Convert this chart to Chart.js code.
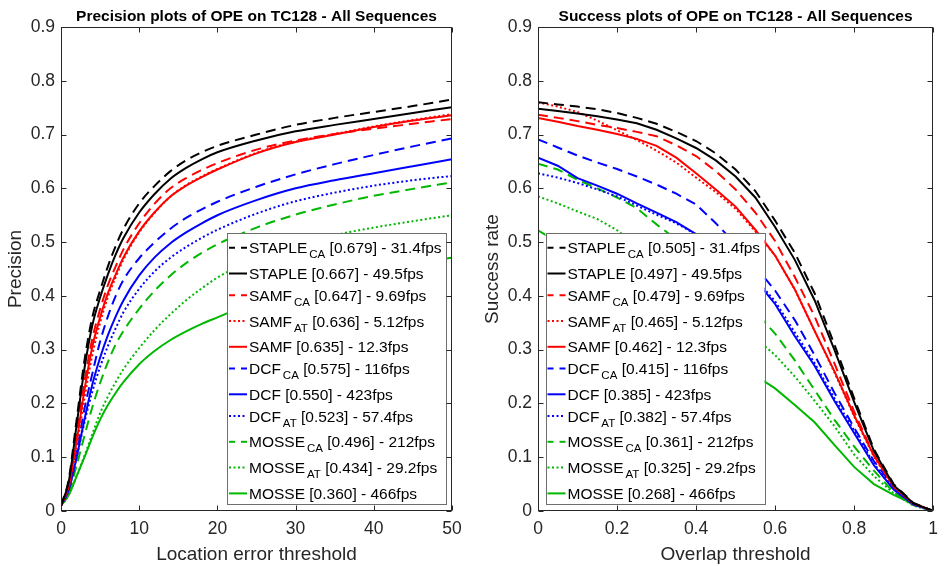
<!DOCTYPE html>
<html>
<head>
<meta charset="utf-8">
<script src="https://cdn.jsdelivr.net/npm/chart.js@4.4.1/dist/chart.umd.min.js"></script>
<style>
  html, body { margin: 0; padding: 0; background: #fff; }
  .plot { position: absolute; top: 0; width: 473px; height: 566px; }
  #leftPlot { left: 0; }
  #rightPlot { left: 473px; }
</style>
</head>
<body>
<div class="plot" id="leftPlot"><canvas id="precisionChart"></canvas></div>
<div class="plot" id="rightPlot"><canvas id="successChart"></canvas></div>
<script>
// trackers, in legend order
const trackers = ['STAPLE', 'STAPLE', 'SAMF', 'SAMF', 'SAMF', 'DCF', 'DCF', 'DCF', 'MOSSE', 'MOSSE', 'MOSSE'];
const variants = ['CA', '', 'CA', 'AT', '', 'CA', '', 'AT', 'CA', 'AT', ''];
const fps = ['31.4', '49.5', '9.69', '5.12', '12.3', '116', '423', '57.4', '212', '29.2', '466'];
const precisionScores = [0.679, 0.667, 0.647, 0.636, 0.635, 0.575, 0.550, 0.523, 0.496, 0.434, 0.360];
const successScores = [0.505, 0.497, 0.479, 0.465, 0.462, 0.415, 0.385, 0.382, 0.361, 0.325, 0.268];

// location error thresholds (px)
const errorThresholds = [0, 1, 2, 3, 4, 5, 6, 7, 8, 10, 12, 14, 16, 18, 20, 25, 30, 35, 40, 45, 50];
const precisionStapleCA = [0.01, 0.06, 0.17, 0.28, 0.36, 0.41, 0.455, 0.493, 0.525, 0.572, 0.605, 0.632, 0.652, 0.667, 0.679, 0.700, 0.718, 0.731, 0.742, 0.753, 0.765];
const precisionStaple   = [0.01, 0.055, 0.16, 0.265, 0.345, 0.397, 0.44, 0.477, 0.508, 0.555, 0.590, 0.618, 0.638, 0.654, 0.667, 0.689, 0.706, 0.718, 0.729, 0.740, 0.751];
const precisionSamfCA   = [0.01, 0.05, 0.14, 0.24, 0.32, 0.375, 0.42, 0.455, 0.487, 0.535, 0.572, 0.600, 0.619, 0.634, 0.647, 0.672, 0.689, 0.701, 0.711, 0.720, 0.729];
const precisionSamfAT   = [0.01, 0.045, 0.12, 0.21, 0.29, 0.35, 0.398, 0.435, 0.468, 0.518, 0.555, 0.585, 0.606, 0.622, 0.636, 0.666, 0.687, 0.701, 0.715, 0.727, 0.738];
const precisionSamf     = [0.01, 0.048, 0.13, 0.225, 0.305, 0.36, 0.405, 0.44, 0.472, 0.52, 0.556, 0.585, 0.605, 0.621, 0.635, 0.665, 0.686, 0.700, 0.714, 0.726, 0.736];
const precisionDcfCA    = [0.01, 0.045, 0.11, 0.19, 0.255, 0.315, 0.362, 0.4, 0.43, 0.47, 0.50, 0.525, 0.545, 0.561, 0.575, 0.603, 0.626, 0.645, 0.662, 0.678, 0.693];
const precisionDcf      = [0.01, 0.04, 0.1, 0.17, 0.235, 0.285, 0.327, 0.362, 0.392, 0.438, 0.472, 0.498, 0.518, 0.535, 0.550, 0.578, 0.600, 0.615, 0.628, 0.641, 0.654];
const precisionDcfAT    = [0.01, 0.04, 0.1, 0.165, 0.222, 0.268, 0.307, 0.34, 0.37, 0.413, 0.446, 0.471, 0.491, 0.508, 0.523, 0.553, 0.576, 0.592, 0.605, 0.615, 0.623];
const precisionMosseCA  = [0.01, 0.035, 0.085, 0.14, 0.193, 0.238, 0.277, 0.31, 0.335, 0.376, 0.41, 0.438, 0.461, 0.48, 0.496, 0.527, 0.551, 0.57, 0.586, 0.599, 0.611];
const precisionMosseAT  = [0.01, 0.03, 0.065, 0.103, 0.143, 0.182, 0.213, 0.24, 0.264, 0.303, 0.337, 0.366, 0.392, 0.414, 0.434, 0.47, 0.495, 0.513, 0.527, 0.539, 0.550];
const precisionMosse    = [0.01, 0.03, 0.065, 0.1, 0.137, 0.17, 0.197, 0.22, 0.24, 0.273, 0.298, 0.318, 0.334, 0.348, 0.360, 0.39, 0.413, 0.432, 0.447, 0.46, 0.471];

// overlap thresholds
const overlapThresholds = [0, 0.05, 0.1, 0.15, 0.2, 0.25, 0.3, 0.35, 0.4, 0.45, 0.5, 0.55, 0.6, 0.65, 0.7, 0.75, 0.8, 0.85, 0.9, 0.95, 1];
const successStapleCA = [0.760, 0.756, 0.752, 0.747, 0.740, 0.731, 0.720, 0.705, 0.688, 0.665, 0.635, 0.595, 0.540, 0.480, 0.405, 0.310, 0.210, 0.115, 0.050, 0.015, 0.0];
const successStaple   = [0.748, 0.744, 0.739, 0.734, 0.728, 0.721, 0.709, 0.693, 0.675, 0.652, 0.622, 0.583, 0.528, 0.467, 0.392, 0.300, 0.203, 0.112, 0.048, 0.014, 0.0];
const successSamfCA   = [0.737, 0.731, 0.725, 0.718, 0.712, 0.705, 0.697, 0.680, 0.660, 0.632, 0.598, 0.555, 0.502, 0.435, 0.362, 0.275, 0.185, 0.104, 0.047, 0.014, 0.0];
const successSamfAT   = [0.760, 0.752, 0.742, 0.726, 0.708, 0.690, 0.670, 0.648, 0.620, 0.593, 0.562, 0.520, 0.475, 0.412, 0.335, 0.258, 0.176, 0.101, 0.045, 0.013, 0.0];
const successSamf     = [0.731, 0.724, 0.716, 0.709, 0.701, 0.692, 0.679, 0.657, 0.628, 0.598, 0.566, 0.523, 0.475, 0.412, 0.335, 0.260, 0.178, 0.103, 0.046, 0.014, 0.0];
const successDcfCA    = [0.691, 0.676, 0.661, 0.648, 0.636, 0.622, 0.607, 0.590, 0.570, 0.535, 0.497, 0.455, 0.410, 0.355, 0.290, 0.220, 0.155, 0.093, 0.045, 0.013, 0.0];
const successDcf      = [0.657, 0.642, 0.619, 0.605, 0.590, 0.572, 0.555, 0.537, 0.515, 0.490, 0.465, 0.430, 0.385, 0.325, 0.270, 0.205, 0.145, 0.085, 0.040, 0.012, 0.0];
const successDcfAT    = [0.628, 0.620, 0.610, 0.598, 0.585, 0.568, 0.551, 0.535, 0.514, 0.490, 0.465, 0.432, 0.390, 0.332, 0.275, 0.210, 0.150, 0.088, 0.042, 0.013, 0.0];
const successMosseCA  = [0.646, 0.635, 0.616, 0.600, 0.583, 0.563, 0.533, 0.505, 0.475, 0.445, 0.410, 0.370, 0.330, 0.280, 0.225, 0.170, 0.120, 0.075, 0.035, 0.011, 0.0];
const successMosseAT  = [0.585, 0.572, 0.557, 0.543, 0.522, 0.495, 0.467, 0.440, 0.410, 0.380, 0.350, 0.322, 0.290, 0.250, 0.205, 0.158, 0.105, 0.065, 0.033, 0.010, 0.0];
const successMosse    = [0.522, 0.500, 0.478, 0.456, 0.433, 0.410, 0.387, 0.363, 0.338, 0.311, 0.283, 0.252, 0.228, 0.197, 0.165, 0.123, 0.082, 0.050, 0.030, 0.013, 0.0];

const precisionCurves = [precisionStapleCA, precisionStaple, precisionSamfCA, precisionSamfAT, precisionSamf,
  precisionDcfCA, precisionDcf, precisionDcfAT, precisionMosseCA, precisionMosseAT, precisionMosse];
const successCurves = [successStapleCA, successStaple, successSamfCA, successSamfAT, successSamf,
  successDcfCA, successDcf, successDcfAT, successMosseCA, successMosseAT, successMosse];

const FONT = "'Liberation Sans', Arial, Helvetica, sans-serif";
const AXIS_COLOR = '#262626';
const GREEN = '#00b800';
const DASH = [10, 6];
const DOT = [2, 2.5];
// colour / line style per tracker
const lineStyles = [
  { color: '#000000', dash: DASH }, { color: '#000000', dash: [] },
  { color: '#ff0000', dash: DASH }, { color: '#ff0000', dash: DOT }, { color: '#ff0000', dash: [] },
  { color: '#0000ff', dash: DASH }, { color: '#0000ff', dash: [] }, { color: '#0000ff', dash: DOT },
  { color: GREEN, dash: DASH }, { color: GREEN, dash: DOT }, { color: GREEN, dash: [] }
];

function buildDatasets(xs, curves, smooth) {
  return curves.map((ys, i) => ({
    label: trackers[i] + variants[i],
    data: xs.map((x, k) => ({ x: x, y: ys[k] })),
    borderColor: lineStyles[i].color,
    borderDash: lineStyles[i].dash,
    borderWidth: 2,
    pointRadius: 0,
    fill: false,
    cubicInterpolationMode: smooth ? 'monotone' : 'default',
    tension: 0
  }));
}

// title, legend box and MATLAB style frame with inward ticks
const matlabAxes = {
  id: 'matlabAxes',
  afterDatasetsDraw(chart, args, opts) {
    const { ctx, chartArea: a, scales } = chart;
    ctx.save();

    // legend
    const boxW = 219, boxH = 271;
    const bx = opts.legendSide === 'right' ? a.right - 6 - boxW : a.left + 7.5;
    const by = a.bottom - 7 - boxH;
    ctx.fillStyle = '#ffffff';
    ctx.fillRect(bx, by, boxW, boxH);
    ctx.strokeStyle = '#6e6e6e';
    ctx.lineWidth = 1;
    ctx.setLineDash([]);
    ctx.strokeRect(Math.round(bx) + 0.5, Math.round(by) + 0.5, boxW, boxH);

    let rowTop = by + 4;
    trackers.forEach((name, i) => {
      const cy = rowTop + 10.7;
      const st = lineStyles[i];
      ctx.strokeStyle = st.color;
      ctx.lineWidth = 2;
      ctx.setLineDash(st.dash === DASH ? [6, 6] : st.dash);
      ctx.beginPath();
      ctx.moveTo(bx + 2, cy);
      ctx.lineTo(bx + 20, cy);
      ctx.stroke();
      ctx.setLineDash([]);

      ctx.fillStyle = '#000000';
      ctx.textBaseline = 'alphabetic';
      ctx.textAlign = 'left';
      const base = cy + 5.6;
      let tx = bx + 22;
      ctx.font = '15.5px ' + FONT;
      ctx.fillText(name, tx, base);
      tx += ctx.measureText(name).width;
      if (variants[i]) {
        tx += 2;
        ctx.font = '11.5px ' + FONT;
        ctx.fillText(variants[i], tx, base + 5);
        tx += ctx.measureText(variants[i]).width;
      }
      ctx.font = '15.5px ' + FONT;
      ctx.fillText(' [' + opts.scores[i].toFixed(3) + '] - ' + fps[i] + 'fps', tx, base);
      rowTop += variants[i] ? 25.8 : 21.7;
    });

    // frame and ticks on all four sides
    ctx.strokeStyle = AXIS_COLOR;
    ctx.lineWidth = 1;
    const L = Math.round(a.left) + 0.5, R = Math.round(a.right) - 0.5;
    const T = Math.round(a.top) + 0.5, B = Math.round(a.bottom) - 0.5;
    ctx.strokeRect(L, T, R - L, B - T);
    ctx.beginPath();
    scales.x.ticks.forEach(t => {
      const px = Math.round(scales.x.getPixelForValue(t.value)) + 0.5;
      ctx.moveTo(px, B); ctx.lineTo(px, B - 5);
      ctx.moveTo(px, T); ctx.lineTo(px, T + 5);
    });
    scales.y.ticks.forEach(t => {
      const py = Math.round(scales.y.getPixelForValue(t.value)) + 0.5;
      ctx.moveTo(L, py); ctx.lineTo(L + 5, py);
      ctx.moveTo(R, py); ctx.lineTo(R - 5, py);
    });
    ctx.stroke();

    // bold title over the plot area
    ctx.fillStyle = '#000000';
    ctx.font = 'bold 15.5px ' + FONT;
    ctx.textAlign = 'center';
    ctx.textBaseline = 'alphabetic';
    ctx.fillText(opts.title, (a.left + a.right) / 2, 20.5);
    ctx.restore();
  }
};

function makeChart(canvasId, cfg) {
  return new Chart(document.getElementById(canvasId).getContext('2d'), {
    type: 'line',
    data: { datasets: buildDatasets(cfg.xs, cfg.curves, cfg.smooth) },
    options: {
      responsive: true,
      maintainAspectRatio: false,
      devicePixelRatio: 1,
      animation: false,
      layout: { padding: { top: 27, right: cfg.padRight, left: 0, bottom: 0 } },
      scales: {
        x: {
          type: 'linear',
          min: 0,
          max: cfg.xMax,
          grid: { display: false, drawTicks: false },
          border: { display: false },
          afterFit: s => { s.height = 55; },
          ticks: {
            stepSize: cfg.xStep,
            padding: 8,
            maxRotation: 0,
            color: AXIS_COLOR,
            font: { family: FONT, size: 17.5 },
            callback: v => String(Number(v.toFixed(1)))
          },
          title: {
            display: true,
            text: cfg.xTitle,
            color: AXIS_COLOR,
            font: { family: FONT, size: 19 },
            padding: { top: 0, bottom: 0 }
          }
        },
        y: {
          min: 0,
          max: 0.9,
          grid: { display: false, drawTicks: false },
          border: { display: false },
          afterFit: s => { s.width = cfg.yWidth; },
          ticks: {
            stepSize: 0.1,
            padding: 6,
            color: AXIS_COLOR,
            font: { family: FONT, size: 17.5 },
            callback: v => String(Number(v.toFixed(1)))
          },
          title: {
            display: true,
            text: cfg.yTitle,
            color: AXIS_COLOR,
            font: { family: FONT, size: 19 },
            padding: { top: cfg.yTitlePad, bottom: 0 }
          }
        }
      },
      plugins: {
        legend: { display: false },
        tooltip: { enabled: false },
        matlabAxes: { title: cfg.title, scores: cfg.scores, legendSide: cfg.legendSide }
      }
    },
    plugins: [matlabAxes]
  });
}

makeChart('precisionChart', {
  xs: errorThresholds, curves: precisionCurves, smooth: true,
  xMax: 50, xStep: 10, padRight: 21, yWidth: 61, yTitlePad: 4,
  xTitle: 'Location error threshold', yTitle: 'Precision',
  title: 'Precision plots of OPE on TC128 - All Sequences',
  scores: precisionScores, legendSide: 'right'
});

makeChart('successChart', {
  xs: overlapThresholds, curves: successCurves, smooth: false,
  xMax: 1, xStep: 0.2, padRight: 11, yWidth: 65, yTitlePad: 8,
  xTitle: 'Overlap threshold', yTitle: 'Success rate',
  title: 'Success plots of OPE on TC128 - All Sequences',
  scores: successScores, legendSide: 'left'
});
</script>
</body>
</html>
